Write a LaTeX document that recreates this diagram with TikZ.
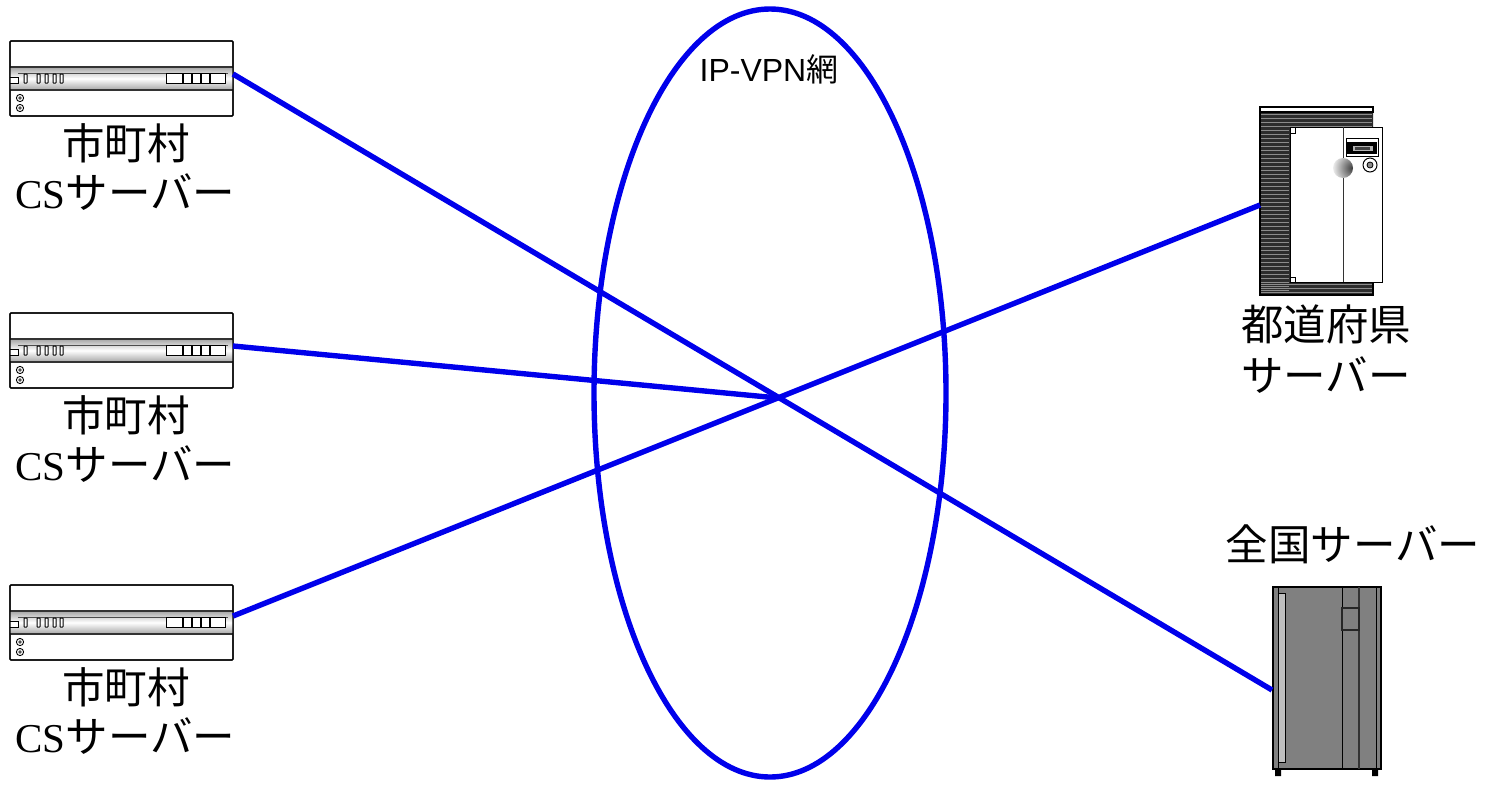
\documentclass[tikz,border=0pt]{standalone}
\usepackage{fontspec}
\setmainfont{Liberation Serif}
\newfontfamily\cjk{Noto Sans CJK JP}
\newfontfamily\arial{Liberation Sans}
\newcommand{\bigtxtfont}{\fontsize{42.5}{42.5}\selectfont\cjk}
\usetikzlibrary{calc,shapes.geometric}
\definecolor{netblue}{RGB}{0,0,235}
\definecolor{cabgray}{RGB}{128,128,128}
\definecolor{stripedark}{RGB}{45,45,45}
\definecolor{stripelight}{RGB}{140,140,140}
\tikzset{
  link/.style={draw=netblue,line width=5.4pt},
  rackbox/.style={draw=black,line width=1.1pt,rounded corners=1pt,fill=white,minimum width=223pt,minimum height=75pt,inner sep=0pt,outer sep=0pt},
  part/.style={draw=black,line width=1pt},
  bigtxt/.style={font=\bigtxtfont,inner sep=0pt,text=black},
  pics/rack/.style={code={
    \shade[top color=gray!70,bottom color=gray!70,middle color=white] (10,67) rectangle (233,90);
    \draw[line width=1.3pt,black!80] (10,67)--(233,67) (10,90)--(233,90);
    \draw[line width=.9pt,black!70] (18,73)--(228,73);
    \draw[part,fill=white] (10,77) -- (18,77) -- (18,83) -- (10,83);
    \foreach \xa in {24,37,45,53,60} \draw[part,fill=white,rounded corners=.5pt] (\xa,74) rectangle ++(3,9);
    \foreach \xa/\xb in {166/182,183/191,192/200,201/209,210/225} \draw[part,fill=white] (\xa,73) rectangle (\xb,83);
    \foreach \ya in {98,108} {\draw[line width=.9pt] (20,\ya) circle[radius=3.6pt]; \fill[black!70] (20,\ya) circle[radius=1.9pt];}
  }}
}
\begin{document}
\begin{tikzpicture}[x=1pt,y=-1pt]
\useasboundingbox (0,0) rectangle (1488,785);
\fill[white] (0,0) rectangle (1488,785);

% network ellipse
\node[draw=netblue,line width=5.4pt,ellipse,minimum width=352pt,minimum height=768pt,inner sep=0pt,outer sep=0pt] (net) at (770,393) {};
\node[font=\fontsize{32}{32}\selectfont\arial,inner sep=0pt] (netlabel) at (769,69) {IP-VPN{\cjk 網}};

% racks
\node[rackbox] (cs1) at (121.5,78.5) {};
\node[rackbox] (cs2) at (121.5,350.5) {};
\node[rackbox] (cs3) at (121.5,622.5) {};
\pic at (0,0) {rack};
\pic at (0,272) {rack};
\pic at (0,544) {rack};
\draw[line width=1.1pt,rounded corners=1pt] (cs1.south west) rectangle (cs1.north east);
\draw[line width=1.1pt,rounded corners=1pt] (cs2.south west) rectangle (cs2.north east);
\draw[line width=1.1pt,rounded corners=1pt] (cs3.south west) rectangle (cs3.north east);

\node[bigtxt] (l1a) at (126,143) {市町村};
\node[bigtxt] (l2a) at (126,415) {市町村};
\node[bigtxt] (l3a) at (126,687) {市町村};
\node[inner sep=0pt] (l1b) at (125.5,192) {{\fontsize{41}{41}\selectfont CS}{\bigtxtfont サーバー}};
\node[inner sep=0pt] (l2b) at (125.5,464) {{\fontsize{41}{41}\selectfont CS}{\bigtxtfont サーバー}};
\node[inner sep=0pt] (l3b) at (125.5,736) {{\fontsize{41}{41}\selectfont CS}{\bigtxtfont サーバー}};

% prefecture server
\node[inner sep=0pt,outer sep=0pt,minimum width=122pt,minimum height=188pt] (pref) at (1321,201) {};
\fill[stripedark] (1260,112) rectangle (1373,127) (1260,127) rectangle (1290,282) (1260,282) rectangle (1373,295);
\foreach \ya in {114,118,...,294} \draw[stripelight,line width=1pt] (1261,\ya)--(1289,\ya);
\foreach \ya in {114,118,122,126,284,288,292} \draw[stripelight,line width=1pt] (1261,\ya)--(1372,\ya);
\draw[line width=1.3pt,fill=white] (1260,107) rectangle (1373,112);
\draw[line width=1.3pt] (1260,107)--(1260,295)--(1373,295)--(1373,282);
\draw[line width=1pt,fill=white] (1290,127) rectangle (1382,282);
\draw[line width=1pt,fill=white] (1290,127) rectangle (1295,133);
\draw[line width=1pt,fill=white] (1290,277) rectangle (1295,282);
\draw[line width=1pt,black!80] (1343,127)--(1343,282);
\draw[line width=1pt,fill=white] (1346,138) rectangle (1378,156);
\fill[black] (1347,142) rectangle (1377,154);
\draw[line width=.8pt,fill=black!30] (1352,145) rectangle (1373,151);
\fill[black!75] (1355,146.5) rectangle (1370,150);
\draw[line width=1pt] (1370,165) circle[radius=7pt];
\draw[line width=.8pt,fill=black!45] (1370,165) circle[radius=3pt];
\begin{scope}
\clip (1343,168) circle[radius=10pt];
\shade[inner color=black!75,outer color=black!4,shading=radial] (1352,168) circle[radius=20pt];
\end{scope}
\node[bigtxt] (prefa) at (1326,324) {都道府県};
\node[bigtxt] (prefb) at (1326,375) {サーバー};

% national server
\node[draw=black,line width=1.1pt,fill=cabgray,minimum width=108pt,minimum height=182pt,inner sep=0pt,outer sep=0pt] (nat) at (1327,678) {};
\fill[black] (1275,769) rectangle (1281,776) (1372,769) rectangle (1378,776);
\draw[line width=1pt,fill=black!25] (1278,593) rectangle (1285,762);
\draw[line width=1pt] (1278,587)--(1278,769) (1342,587)--(1342,769) (1376,587)--(1376,769);
\draw[line width=1.1pt,black!80] (1359,587)--(1359,769);
\draw[line width=1.1pt,black!85] (1342,608) rectangle (1359,630);
\node[bigtxt] (nata) at (1353,544) {全国サーバー};

% connectors
\coordinate (hub) at (778,398);
\coordinate (c1) at (233,74);
\coordinate (c2) at (233,346);
\coordinate (c3) at (233,616);
\coordinate (p1) at (1260,205);
\coordinate (n1) at (1272,690);
\draw[link] (c1) -- (n1);
\draw[link] (c2) -- (hub);
\draw[link] (c3) -- (p1);
\end{tikzpicture}
\end{document}
